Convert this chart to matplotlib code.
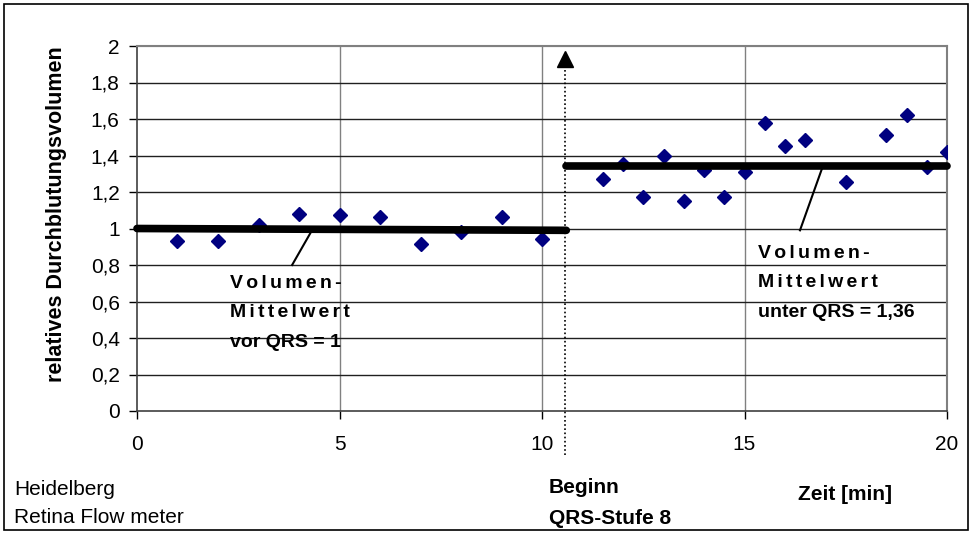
import matplotlib
matplotlib.use("Agg")
import matplotlib.pyplot as plt
from matplotlib.patches import Rectangle

plt.rcParams['font.family'] = ['Liberation Sans', 'DejaVu Sans']

# data
x_before = [1, 2, 3, 4, 5, 6, 7, 8, 9, 10]
y_before = [0.93, 0.93, 1.02, 1.08, 1.075, 1.065, 0.915, 0.98, 1.065, 0.945]
x_after = [11.5, 12, 12.5, 13, 13.5, 14, 14.5, 15, 15.5, 16, 16.5, 17.5, 18.5, 19, 19.5, 20]
y_after = [1.27, 1.355, 1.17, 1.40, 1.15, 1.32, 1.17, 1.31, 1.58, 1.45, 1.485, 1.255, 1.515, 1.62, 1.335, 1.42]
mean_before_x = [0, 10.6]
mean_before_y = [1.0, 0.99]
mean_after_x = [10.6, 20]
mean_after_y = [1.345, 1.345]
start_x = 10.58
xticks = [0, 5, 10, 15, 20]
yticks = [0, 0.2, 0.4, 0.6, 0.8, 1.0, 1.2, 1.4, 1.6, 1.8, 2.0]
ytick_labels = ["0", "0,2", "0,4", "0,6", "0,8", "1", "1,2", "1,4", "1,6", "1,8", "2"]

fig = plt.figure(figsize=(9.7, 5.33), dpi=100)
ax = fig.add_axes([137/970, 1-411/533, 810/970, 365/533])
ax.set_xlim(0, 20)
ax.set_ylim(0, 2)

ax.set_xticks(xticks)
ax.set_xticklabels([str(v) for v in xticks], fontsize=15)
ax.set_yticks(yticks)
ax.set_yticklabels(ytick_labels, fontsize=15)
ax.tick_params(axis='both', direction='out', length=5.5, width=1, color='black')
ax.tick_params(axis='x', pad=12)
ax.tick_params(axis='y', pad=7)

for v in [5, 10, 15]:
    ax.axvline(v, color='#808080', lw=1, zorder=1)
for v in yticks[1:-1]:
    ax.axhline(v, color='#202020', lw=1, zorder=1)
ax.axhline(2.0, color='#808080', lw=1.5, zorder=1)

for s in ['top', 'right']:
    ax.spines[s].set_color('#808080')
    ax.spines[s].set_linewidth(1.5)
for s in ['left', 'bottom']:
    ax.spines[s].set_color('#404040')
    ax.spines[s].set_linewidth(1.2)

ax.set_ylabel("relatives Durchblutungsvolumen", fontsize=15.5, fontweight='bold')
ax.yaxis.set_label_coords(-0.087, 0.54)

ax.plot(x_before, y_before, linestyle='none', marker='D', ms=7.5, color='#000080', zorder=3)
ax.plot(x_after, y_after, linestyle='none', marker='D', ms=7.5, color='#000080', zorder=3)

ax.plot(mean_before_x, mean_before_y, color='black', lw=5.5, solid_capstyle='round', zorder=4, clip_on=False)
ax.plot(mean_after_x, mean_after_y, color='black', lw=5.5, solid_capstyle='round', zorder=4, clip_on=False)

# start marker: dotted line and arrowhead
ax.plot([start_x, start_x], [-0.24, 1.93], color='black', lw=1.2, linestyle=(0, (1, 1.5)), clip_on=False, zorder=5)
ax.plot([start_x], [1.93], marker='^', ms=11, color='black', clip_on=False, zorder=5)

# leader lines
ax.plot([4.32, 3.83], [0.99, 0.80], color='black', lw=1.5, zorder=5)
ax.plot([16.94, 16.37], [1.345, 0.99], color='black', lw=1.5, zorder=5)

ts = "\u2006"
ann_kw = dict(fontsize=14, fontweight='bold', ha='left', va='top', linespacing=1.95, zorder=6)
ax.text(2.3, 0.746, ts.join("Volumen-") + "\n" + ts.join("Mittelwert") + "\nvor QRS = 1", **ann_kw)
ax.text(15.33, 0.91, ts.join("Volumen-") + "\n" + ts.join("Mittelwert") + "\nunter QRS = 1,36", **ann_kw)

fig.text(14/970, 1-495/533, "Heidelberg", fontsize=15, va='baseline', ha='left')
fig.text(14/970, 1-523/533, "Retina Flow meter", fontsize=15, va='baseline', ha='left')
fig.text(549/970, 1-493/533, "Beginn", fontsize=15, fontweight='bold', va='baseline', ha='left')
fig.text(549/970, 1-524/533, "QRS-Stufe 8", fontsize=15, fontweight='bold', va='baseline', ha='left')
fig.text(798/970, 1-500/533, "Zeit [min]", fontsize=15, fontweight='bold', va='baseline', ha='left')

fig.patches.append(Rectangle((4/970, 3/533), 964/970, 526/533, transform=fig.transFigure,
                             fill=False, edgecolor='black', lw=1.2))

fig.savefig("out.png", dpi=100)
